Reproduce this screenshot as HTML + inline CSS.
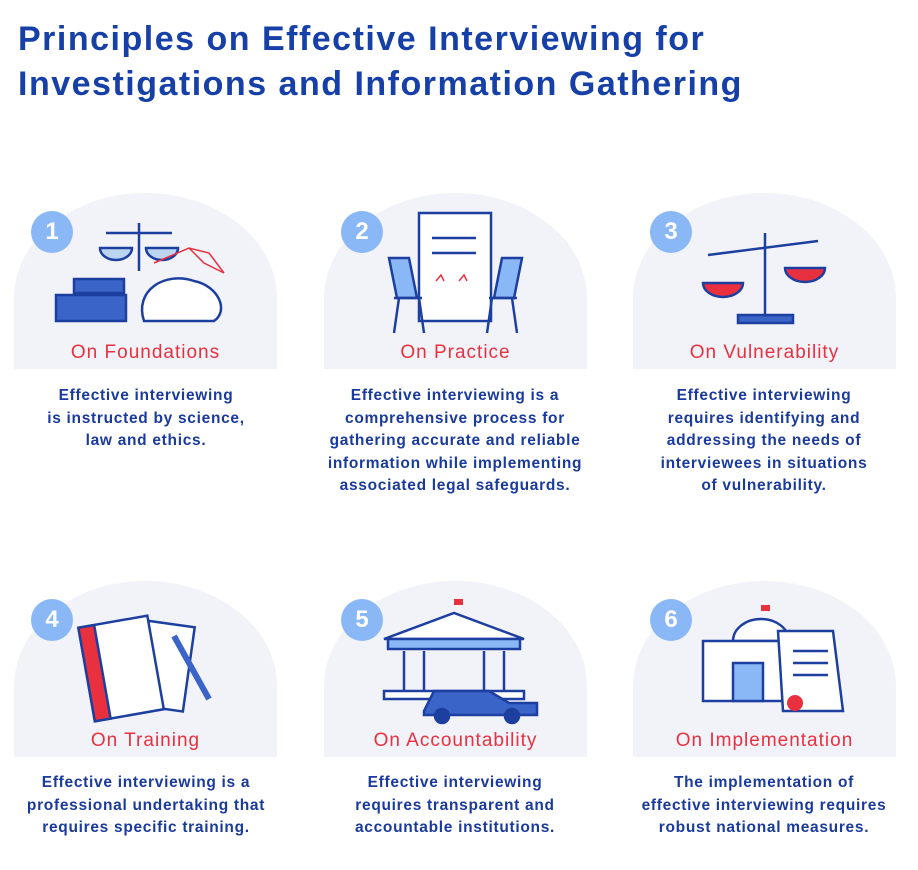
<!DOCTYPE html>
<html><head><meta charset="utf-8"><style>
body{margin:0;width:918px;height:870px;background:#fff;font-family:"Liberation Sans",sans-serif;position:relative;overflow:hidden}
h1{position:absolute;left:18px;top:17px;margin:0;font-size:34px;line-height:45px;color:#1640a8;font-weight:bold;letter-spacing:1.5px;white-space:nowrap}
.card{position:absolute;width:263px;height:176px;background:#f2f3f9;border-radius:50% 50% 0 0/105px 105px 0 0}
.num{position:absolute;left:17px;top:18px;width:42px;height:42px;border-radius:50%;background:#8ab8f7;color:#fff;font-weight:bold;font-size:24px;text-align:center;line-height:42px}
.hd{position:absolute;left:0;right:0;bottom:5px;text-align:center;color:#e8303f;font-size:19px;letter-spacing:1px}
.ds{position:absolute;width:300px;text-align:center;color:#1a3a9c;font-weight:bold;font-size:15.5px;line-height:22.5px;letter-spacing:0.7px}
svg{position:absolute;left:0;top:0}
</style></head><body>
<h1>Principles on Effective Interviewing for<br>Investigations and Information Gathering</h1>

<div class="card" style="left:14px;top:193px">
<svg width="263" height="176"><g stroke="#1d3fa0" stroke-width="2.5" fill="none">
<line x1="125" y1="30" x2="125" y2="78"/><line x1="92" y1="40" x2="158" y2="40"/>
<path d="M86 55 a16 12 0 0 0 32 0z" fill="#bcd6f2"/><path d="M132 55 a16 12 0 0 0 32 0z" fill="#bcd6f2"/>
<rect x="60" y="86" width="50" height="14" fill="#3a64c8"/><rect x="42" y="102" width="70" height="26" fill="#3a64c8"/>
<path d="M130 128 c-10-30 20-50 50-40 c25 5 35 30 20 40z" fill="#fff"/>
</g><g stroke="#e8303f" stroke-width="1.5" fill="none"><path d="M140 70 L175 55 L195 60 L210 80 L190 70 L175 55"/></g></svg>
<div class="num">1</div><div class="hd">On Foundations</div></div>

<div class="card" style="left:324px;top:193px">
<svg width="263" height="176"><g stroke="#1d3fa0" stroke-width="2.5" fill="none">
<rect x="95" y="20" width="72" height="108" fill="#fff"/><line x1="108" y1="45" x2="152" y2="45"/><line x1="108" y1="60" x2="152" y2="60"/>
<path d="M65 65 l20 0 l8 40 l-20 0z" fill="#8ab8f7"/><path d="M70 105 h28 M75 105 l-5 35 M95 105 l5 35"/>
<path d="M198 65 l-20 0 l-8 40 l20 0z" fill="#8ab8f7"/><path d="M193 105 h-28 M188 105 l5 35 M168 105 l-5 35"/>
</g><path d="M112 88 l5-6 l3 6 M135 88 l5-6 l3 6" stroke="#e8303f" fill="none" stroke-width="1.5"/></svg>
<div class="num">2</div><div class="hd">On Practice</div></div>

<div class="card" style="left:633px;top:193px">
<svg width="263" height="176"><g stroke="#1d3fa0" stroke-width="2.5" fill="none">
<line x1="132" y1="40" x2="132" y2="125"/><line x1="75" y1="62" x2="185" y2="48"/>
<path d="M70 90 a20 14 0 0 0 40 0z" fill="#e8303f"/><path d="M152 75 a20 14 0 0 0 40 0z" fill="#e8303f"/>
<rect x="105" y="122" width="55" height="8" fill="#3a64c8"/></g></svg>
<div class="num">3</div><div class="hd">On Vulnerability</div></div>

<div class="card" style="left:14px;top:581px">
<svg width="263" height="176"><g stroke="#1d3fa0" stroke-width="2.5" fill="none">
<rect x="120" y="42" width="55" height="85" fill="#fff" transform="rotate(8 147 85)"/>
<rect x="72" y="40" width="70" height="95" fill="#fff" transform="rotate(-10 107 87)"/>
<rect x="72" y="40" width="16" height="95" fill="#e8303f" transform="rotate(-10 107 87)"/>
<line x1="160" y1="55" x2="195" y2="118" stroke-width="6" stroke="#3a64c8"/></g></svg>
<div class="num">4</div><div class="hd">On Training</div></div>

<div class="card" style="left:324px;top:581px">
<svg width="263" height="176"><g stroke="#1d3fa0" stroke-width="2.5" fill="none">
<path d="M60 58 L130 32 L200 58z" fill="#fff"/><rect x="64" y="58" width="132" height="10" fill="#8ab8f7"/>
<line x1="80" y1="70" x2="80" y2="110"/><line x1="100" y1="70" x2="100" y2="110"/><line x1="160" y1="70" x2="160" y2="110"/><line x1="180" y1="70" x2="180" y2="110"/>
<rect x="60" y="110" width="140" height="8" fill="#fff"/>
<path d="M100 130 l10-20 h55 l20 12 h28 v12 h-113z" fill="#3a64c8"/>
<circle cx="118" cy="135" r="7" fill="#1d3fa0"/><circle cx="188" cy="135" r="7" fill="#1d3fa0"/></g>
<path d="M130 32 v-14 h9 v6 h-9" fill="#e8303f"/></svg>
<div class="num">5</div><div class="hd">On Accountability</div></div>

<div class="card" style="left:633px;top:581px">
<svg width="263" height="176"><g stroke="#1d3fa0" stroke-width="2.5" fill="none">
<path d="M100 60 a28 22 0 0 1 56 0z" fill="#fff"/>
<rect x="70" y="60" width="90" height="60" fill="#fff"/><rect x="100" y="82" width="30" height="38" fill="#8ab8f7"/>
<path d="M145 50 h55 l10 80 h-60z" fill="#fff"/><line x1="160" y1="70" x2="195" y2="70"/><line x1="160" y1="82" x2="195" y2="82"/><line x1="160" y1="94" x2="195" y2="94"/></g>
<circle cx="162" cy="122" r="8" fill="#e8303f"/><path d="M128 38 v-14 h9 v6 h-9" fill="#e8303f"/></svg>
<div class="num">6</div><div class="hd">On Implementation</div></div>

<div class="ds" style="left:-4px;top:385px">Effective interviewing<br>is instructed by science,<br>law and ethics.</div>
<div class="ds" style="left:305px;top:385px">Effective interviewing is a<br>comprehensive process for<br>gathering accurate and reliable<br>information while implementing<br>associated legal safeguards.</div>
<div class="ds" style="left:614px;top:385px">Effective interviewing<br>requires identifying and<br>addressing the needs of<br>interviewees in situations<br>of vulnerability.</div>
<div class="ds" style="left:-4px;top:772px">Effective interviewing is a<br>professional undertaking that<br>requires specific training.</div>
<div class="ds" style="left:305px;top:772px">Effective interviewing<br>requires transparent and<br>accountable institutions.</div>
<div class="ds" style="left:614px;top:772px">The implementation of<br>effective interviewing requires<br>robust national measures.</div>
</body></html>
